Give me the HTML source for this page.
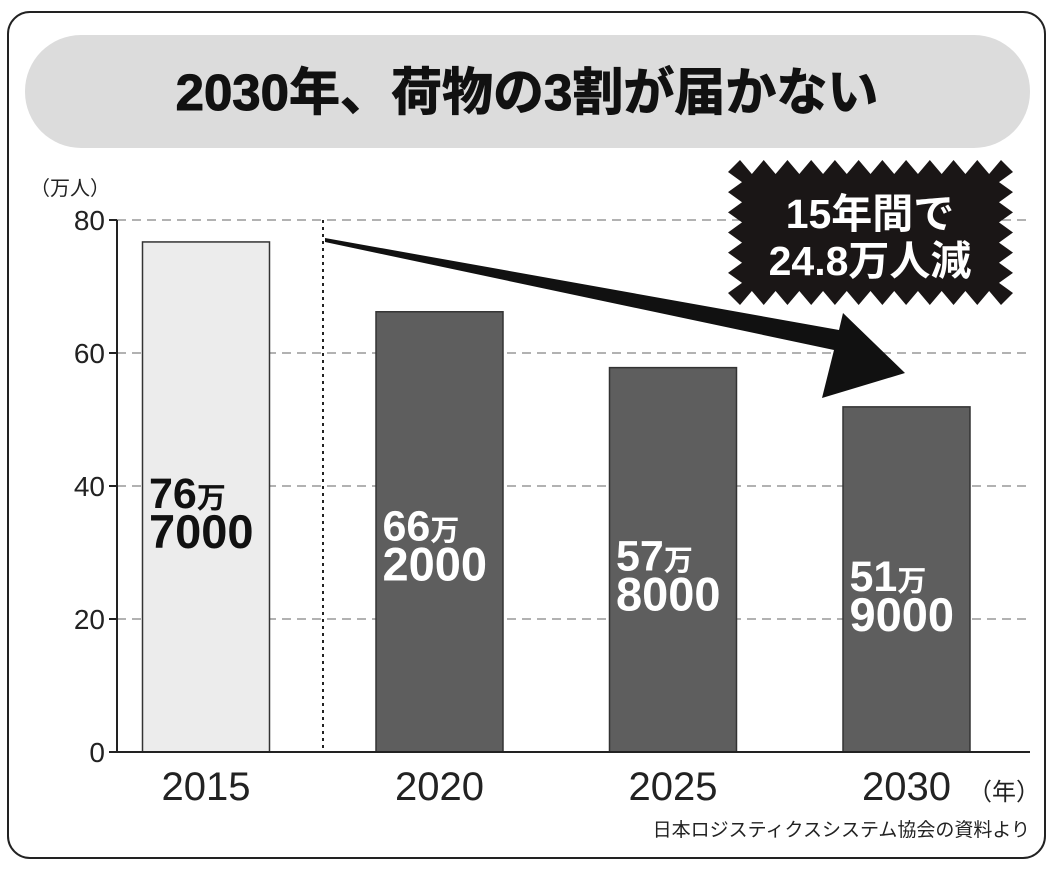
<!DOCTYPE html>
<html><head><meta charset="utf-8"><style>
body{margin:0;background:#fff;}
svg text{font-family:"Liberation Sans","Noto Sans CJK JP",sans-serif;}
</style></head><body>
<svg width="1053" height="879" viewBox="0 0 1053 879" xmlns="http://www.w3.org/2000/svg">
<rect x="8" y="12" width="1037" height="846" rx="22" fill="#fff" stroke="#222" stroke-width="2"/>
<rect x="25" y="35" width="1005" height="113" rx="56" fill="#dcdcdc"/>
<text x="527" y="110" text-anchor="middle" font-size="51" font-weight="bold" fill="#111" stroke="#111" stroke-width="1">2030年、荷物の3割が届かない</text>
<text x="30" y="195" font-size="20" fill="#222">（万人）</text>
<g id="grid"></g>
<g id="bars"></g>
<line x1="323" y1="220" x2="323" y2="752" stroke="#222" stroke-width="2" stroke-dasharray="3,4"/>
<polygon points="325,238 839,330 843,313 905,373 822,398 834,350 325,242" fill="#111"/>
<polygon id="burst" fill="#1a1616"/>
<text x="870" y="228" text-anchor="middle" font-size="41" font-weight="bold" fill="#fff">15年間で</text>
<text x="870" y="275" text-anchor="middle" font-size="41" font-weight="bold" fill="#fff">24.8万人減</text>
<g id="axes"></g>
<text x="968" y="800" font-size="24" fill="#222">（年）</text>
<text x="1030" y="836" text-anchor="end" font-size="19" fill="#222">日本ロジスティクスシステム協会の資料より</text>
</svg>
<script>
const categories=["2015","2020","2025","2030"];
const values=[76.7,66.2,57.8,51.9];
const labelTop=["76","66","57","51"];
const labelBottom=["7000","2000","8000","9000"];
const yTicks=[0,20,40,60,80];
const NS="http://www.w3.org/2000/svg";
const y0=752,yTop=220,yMax=80,x0=117;
const yScale=v=>y0-(v/yMax)*(y0-yTop);
const xCenter=i=>206+i*233.5;
const bw=127;
function mk(tag,attrs,parent){const e=document.createElementNS(NS,tag);for(const k in attrs)e.setAttribute(k,attrs[k]);parent.appendChild(e);return e;}
const grid=document.getElementById('grid'),bars=document.getElementById('bars'),axes=document.getElementById('axes');
yTicks.forEach(t=>{
 const y=yScale(t);
 if(t>0){const l=mk('line',{x1:x0,y1:y,x2:1030,y2:y,stroke:'#999','stroke-width':1.5,'stroke-dasharray':'9,6'},grid);
 
 }
 const tk=mk('line',{x1:x0-8,y1:y,x2:x0,y2:y,stroke:'#222','stroke-width':2},axes);
 
 
 const tx=mk('text',{x:x0-12,y:y+10,'text-anchor':'end','font-size':28,fill:'#222'},axes);
 tx.textContent=t;
 
 
});
const ya=mk('line',{x1:x0,y1:yTop,x2:x0,y2:y0,stroke:'#222','stroke-width':2},axes);


const xa=mk('line',{x1:x0,y1:y0,x2:1030,y2:y0,stroke:'#222','stroke-width':2},axes);


categories.forEach((c,i)=>{
 const cx=xCenter(i),y=yScale(values[i]);
 const first=i===0;
 const r=mk('rect',{x:cx-bw/2,y:y,width:bw,height:y0-y,fill:first?'#ececec':'#5e5e5e',stroke:'#333','stroke-width':1.5},bars);
 
 
 const col=first?'#111':'#fff';
 const ly=first?508:y+(y0-y)*0.47+22;
 const t1=mk('text',{x:cx-57,y:ly,'font-size':43,'font-weight':'bold',fill:col},bars);
 t1.innerHTML=labelTop[i]+'<tspan font-size="29">万</tspan>';
 
 
 const t2=mk('text',{x:cx-57,y:ly+40,'font-size':47,'font-weight':'bold',fill:col},bars);
 t2.textContent=labelBottom[i];
 
 
 const xt=mk('text',{x:cx,y:800,'text-anchor':'middle','font-size':40,fill:'#222'},axes);
 xt.textContent=c;
 
 
});
(function(){const x1=728,x2=1013,y1=160,y2=305,pts=[];const n=11,m=6;
for(let k=0;k<=n;k++){const x=x1+12+(x2-x1-24)*k/n;pts.push([x,y1]);if(k<n)pts.push([x+(x2-x1-24)/n/2,y1+14]);}
for(let k=0;k<=m;k++){const y=y1+12+(y2-y1-24)*k/m;pts.push([x2,y]);if(k<m)pts.push([x2-14,y+(y2-y1-24)/m/2]);}
for(let k=n;k>=0;k--){const x=x1+12+(x2-x1-24)*k/n;pts.push([x,y2]);if(k>0)pts.push([x-(x2-x1-24)/n/2,y2-14]);}
for(let k=m;k>=0;k--){const y=y1+12+(y2-y1-24)*k/m;pts.push([x1,y]);if(k>0)pts.push([x1+14,y-(y2-y1-24)/m/2]);}
document.getElementById('burst').setAttribute('points',pts.map(p=>p.join(',')).join(' '));})();
</script>
</body></html>
